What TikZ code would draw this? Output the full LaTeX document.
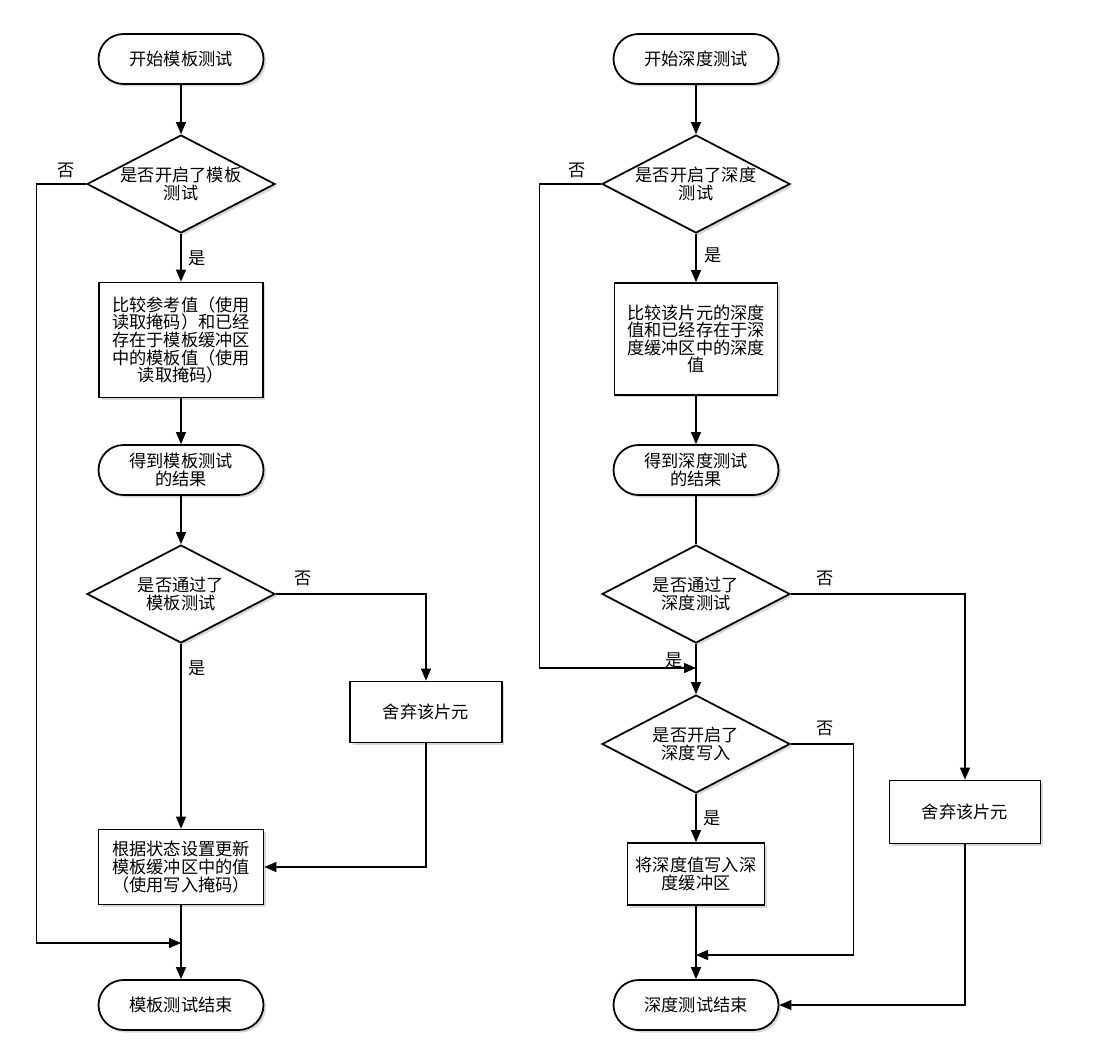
\documentclass[tikz,border=0pt]{standalone}
\usepackage{fontspec}
\setmainfont{Noto Sans CJK SC}
\usetikzlibrary{arrows.meta,shapes.geometric,shadows}

\begin{document}
\begin{tikzpicture}[x=0.02cm,y=-0.02cm,>={Triangle[length=2.4mm,width=2mm]},
 font=\fontsize{9.8}{10}\selectfont,line width=0.7pt,
 shd/.style={drop shadow={shadow xshift=0.5mm,shadow yshift=-0.5mm,opacity=0.3}},
 term/.style={draw,fill=white,line width=1pt,rounded corners=0.5cm,minimum width=3.3cm,minimum height=1cm,align=center,shd},
 box/.style={draw,fill=white,line width=1pt,align=center,shd},
 dec/.style={diamond,draw,fill=white,line width=1pt,shape aspect=1.9,inner sep=0pt,minimum width=3.76cm,minimum height=1.96cm,align=center,shd},
 lbl/.style={inner sep=1pt}]
\useasboundingbox (0,0) rectangle (1102,1055);
% stencil test
\node[term] (startL) at (181,59) {开始模板测试};
\node[dec] (askL) at (181,184) {是否开启了模板\\测试};
\node[box,minimum width=3.28cm,minimum height=2.3cm] (cmpL) at (181,340) {比较参考值（使用\\读取掩码）和已经\\存在于模板缓冲区\\中的模板值（使用\\读取掩码）};
\node[term] (resL) at (181,470) {得到模板测试\\的结果};
\node[dec] (passL) at (181,594) {是否通过了\\模板测试};
\node[box,minimum width=3.04cm,minimum height=1.22cm] (dropL) at (426,712) {舍弃该片元};
\node[box,minimum width=3.3cm,minimum height=1.5cm] (updL) at (181,867) {根据状态设置更新\\模板缓冲区中的值\\（使用写入掩码）};
\node[term] (endL) at (181,1005) {模板测试结束};
\coordinate (joinL) at (181,943);
\node[lbl] (noL1) at (66,170) {否};
\node[lbl] (yesL1) at (197,258) {是};
\node[lbl] (noL2) at (303,578) {否};
\node[lbl] (yesL2) at (197,668) {是};
\draw[->] (startL) -- (askL);
\draw[->] (askL) -- (cmpL);
\draw[->] (cmpL) -- (resL);
\draw[->] (resL) -- (passL);
\draw[->] (passL) -- (updL);
\draw[->] (updL) -- (endL);
\draw[->] (askL.west) -- ++(-50,0) |- (joinL);
\draw[->] (passL.east) -| (dropL.north);
\draw[->] (dropL.south) |- (updL.east);
% depth test
\node[term] (startR) at (696,59) {开始深度测试};
\node[dec] (askR) at (696,184) {是否开启了深度\\测试};
\node[box,minimum width=3.26cm,minimum height=2.24cm] (cmpR) at (696,339) {比较该片元的深度\\值和已经存在于深\\度缓冲区中的深度\\值};
\node[term] (resR) at (696,470) {得到深度测试\\的结果};
\node[dec] (passR) at (696,594) {是否通过了\\深度测试};
\coordinate (joinR1) at (696,668);
\node[dec] (wrR) at (696,744) {是否开启了\\深度写入};
\node[box,minimum width=2.74cm,minimum height=1.24cm] (storeR) at (696,874) {将深度值写入深\\度缓冲区};
\node[box,minimum width=3.02cm,minimum height=1.26cm] (dropR) at (965,812) {舍弃该片元};
\coordinate (joinR2) at (696,955);
\node[term] (endR) at (696,1005) {深度测试结束};
\node[lbl] (noR1) at (577,170) {否};
\node[lbl] (yesR1) at (713,255) {是};
\node[lbl] (noR2) at (825,578) {否};
\node[lbl] (yesR2) at (674,660) {是};
\node[lbl] (noR3) at (825,728) {否};
\node[lbl] (yesR3) at (712,818) {是};
\draw[->] (startR) -- (askR);
\draw[->] (askR) -- (cmpR);
\draw[->] (cmpR) -- (resR);
\draw (resR) -- (passR);
\draw[->] (passR) -- (wrR);
\draw[->] (askR.west) -- ++(-62,0) |- (joinR1);
\draw[->] (passR.east) -| (dropR.north);
\draw[->] (wrR) -- (storeR);
\draw[->] (wrR.east) -- ++(63,0) |- (joinR2);
\draw[->] (storeR) -- (endR);
\draw[->] (dropR.south) |- (endR.east);
\end{tikzpicture}
\end{document}
